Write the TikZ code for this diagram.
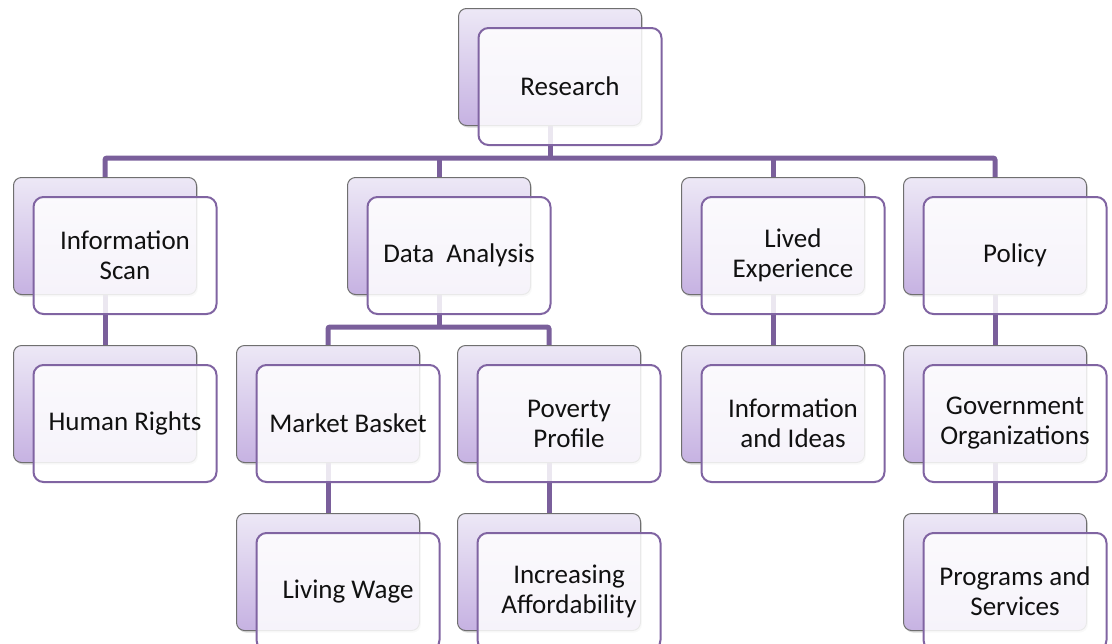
\documentclass[tikz,border=0pt]{standalone}
\usepackage{fontspec}
\setmainfont{Carlito}
\usetikzlibrary{shadows,backgrounds}
\definecolor{conn}{HTML}{7A5F9B}
\definecolor{fborder}{HTML}{8064A2}
\definecolor{btop}{HTML}{EDE8F6}
\definecolor{bbot}{HTML}{C6B2E2}
\definecolor{bedge}{HTML}{6F6F6F}
\definecolor{txt}{HTML}{111111}
\tikzset{
  backbox/.style={draw=bedge, line width=0.75pt, rounded corners=6pt,
    top color=btop, bottom color=bbot, minimum width=137.25pt, minimum height=87.75pt,
    anchor=north west, inner sep=0pt,
    drop shadow={opacity=0.3, shadow xshift=1pt, shadow yshift=-1.5pt}},
  frontbox/.style={draw=fborder, line width=1.5pt, rounded corners=7.5pt,
    fill=white, fill opacity=0.85, text opacity=1, text=txt,
    minimum width=137.25pt, minimum height=87.75pt, anchor=north west,
    align=center, font=\fontsize{20.25}{22.5}\selectfont, inner sep=0pt},
  link/.style={draw=conn, line width=3.75pt, rounded corners=1.5pt}
}
\newcommand{\mkbox}[4]{%
  \node[backbox] (#1) at (#2,#3) {};
  \node[frontbox] (#1F) at (#2+19.5,#3+19) {#4};
}
\begin{document}
\begin{tikzpicture}[x=0.75pt,y=-0.75pt]
\useasboundingbox (0,0) rectangle (1112,643);
\clip (0,0) rectangle (1112,643);
\mkbox{res}{458}{8}{Research}
\mkbox{info}{13}{177}{Information\\Scan}
\mkbox{data}{347}{177}{Data~~Analysis}
\mkbox{lived}{681}{177}{Lived\\Experience}
\mkbox{pol}{903}{177}{Policy}
\mkbox{hr}{13}{345}{Human Rights}
\mkbox{mb}{236}{345}{Market Basket}
\mkbox{pov}{457}{345}{Poverty\\Profile}
\mkbox{ideas}{681}{345}{Information\\and Ideas}
\mkbox{gov}{903}{345}{Government\\Organizations}
\mkbox{lw}{236}{513}{Living Wage}
\mkbox{inc}{457}{513}{Increasing\\Affordability}
\mkbox{prog}{903}{513}{Programs and\\Services}
\coordinate (bus1) at (0,158);
\coordinate (bus2) at (0,327);
\begin{scope}[on background layer]
\draw[link] (res.south) -- (res.south |- bus1);
\draw[link] (info.north) -- (info.north |- bus1) -- (pol.north |- bus1) -- (pol.north);
\draw[link] (data.north) -- (data.north |- bus1);
\draw[link] (lived.north) -- (lived.north |- bus1);
\draw[link] (data.south) -- (data.south |- bus2);
\draw[link] (mb.north) -- (mb.north |- bus2) -- (pov.north |- bus2) -- (pov.north);
\draw[link] (info.south) -- (hr.north);
\draw[link] (mb.south) -- (lw.north);
\draw[link] (pov.south) -- (inc.north);
\draw[link] (lived.south) -- (ideas.north);
\draw[link] (pol.south) -- (gov.north);
\draw[link] (gov.south) -- (prog.north);
\end{scope}
\end{tikzpicture}
\end{document}
